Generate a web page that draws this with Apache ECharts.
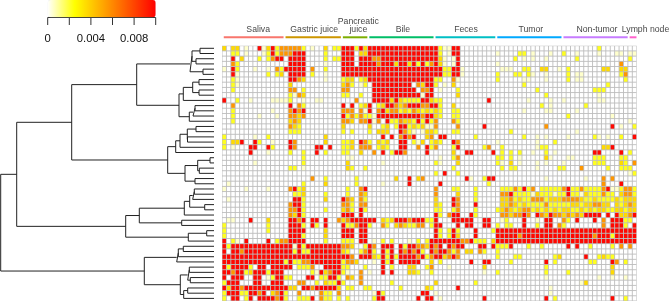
<!DOCTYPE html>
<html><head><meta charset="utf-8">
<style>html,body{margin:0;padding:0;background:#fff}#c{width:670px;height:301px}</style>
<script src="https://cdn.jsdelivr.net/npm/echarts@6/dist/echarts.min.js"></script>
</head><body><div id="c"></div>
<script>
const groupNames = ["Saliva","Gastric juice","Pancreatic\njuice","Bile","Feces","Tumor","Non-tumor","Lymph node"];
const groupSizes = [14,13,6,15,14,15,15,2];
const groupColors = ["#F8766D","#CD9600","#7CAE00","#00BE67","#00BFC4","#00A9FF","#C77CFF","#FF61CC"];
const groupLabelAt = [8.2,20.9,30.9,41,55.3,70,85,96];
const levels = {p:0.0005,y:0.0022,g:0.0036,o:0.0056,r:0.0098};
const legendTicks = [0,0.002,0.004,0.006,0.008,0.01];
// cells of each row: column or column range + level letter
const rows = [
"0g 2g 3g 5p 8r 9p 10g 11r 12y 13o 14-17o 18y 20p 23g 25y 26y 27-29r 30y 31r 32g 33-48r 49y 50p 51p 52r 53r 85y",
"2y 3y 5p 9p 10y 11r 12y 13o 14o 15o 16-18r 23y 27-29r 31g 32g 33-48r 49y 51p 52r 53r 62p 67y 68y 70p 74p 77y 80p 85p 89p 90p 92p 93p",
"2r 4g 8y 10y 11o 12r 13r 15-18r 23y 25y 26y 27-29r 31r 32r 33r 34o 35o 36-48r 49g 50p 52p 53r 66y 68p 70p 73p 80y 92y",
"2o 3y 15-18r 23p 27-29r 31r 32r 33r 34r 35o 36-38r 39g 40r 41r 42g 43r 44y 45r 46y 47o 48r 49g 50p 52p 53r 62p 90o",
"0p 2r 3y 7p 10p 12o 13y 14r 15-18r 20o 23y 27-49r 50y 51y 52r 53r 54p 63p 64p 65p 68y 69y 72g 73g 76p 78y 86g 87g 90g 91g",
"2r 3p 10y 12y 13g 15-18r 20y 23p 27-49r 50y 51y 52r 53r 54p 62y 66y 67y 69y 70p 73p 78y 80p 81p 90y 91o",
"2y 3p 15r 16r 17o 18g 23p 27y 28g 29g 31y 32g 33-47r 48y 49y 52o 53p 62y 68p 69p 73p 78y 80p 81p 91y",
"2y 3p 15g 27g 28o 29y 31p 32y 34-42r 44o 45g 46r 47r 48y 50p 52g 68y 87y",
"2y 15o 16o 18y 27o 28o 34-43r 45o 46o 47r 49p 53y 71y 84y 85y 86y",
"15y 16p 17o 18g 27y 28y 31y 34-44r 45p 46r 47r 53g 73y 85p",
"0r 3y 6p 11p 12p 13p 14p 15y 18p 21p 22p 30o 34-37r 38g 39r 40g 41y 42y 43y 44y 45r 46r 47g 48y 49y 60r 69p 74p 77p 85p 86p",
"2o 15r 17o 18y 27r 29r 31y 32g 33r 35y 36g 37r 38r 39o 40g 41o 42r 43r 44r 45o 46o 47r 48r 49y 52g 72y 74p 82y",
"2y 11p 15o 16r 17o 18r 27o 28o 29o 31o 32p 33r 35o 36r 37g 38o 39o 40y 41g 42y 43o 44g 45y 46g 47y 48g 49y 52y 53y 68p 73p 74p 80p",
"2y 8p 12p 15o 16o 17g 18o 27r 28y 29o 30y 31o 32y 33y 34p 35-44r 45o 46r 47r 48g 49y 52y 53y 78y 88p",
"2y 15g 16o 17g 27o 28o 29g 31o 32o 33r 34p 35o 37r 38y 39y 40o 41g 42g 43y 44r 45y 46r 47y 48o 52o 53y 92p",
"15o 16g 17y 27g 33g 36y 37g 39y 40r 41r 42y 43g 44y 45g 46p 47p 48o 53o 59r 73o 88r 90p 93y",
"15y 16y 17y 27y 29y 33y 35g 36g 37g 40r 41o 42y 43p 45p 46g 47g 48y 52y 53y 65y 80p",
"0y 7p 10y 23g 36r 38r 40o 41r 42o 43r 46g 47o 49r 50r 57y 68y 71p 73p 78p 84y 85p 87p 90y 93r",
"0y 2g 3g 4r 7r 8y 11p 15r 16o 23g 27y 28y 29g 31r 32o 33y 35g 36y 37g 40r 41r 43y 44p 45g 47y 48g 49y 52r 53o 62p 71p 75y",
"0y 2p 6r 7r 10r 11y 15r 16o 21r 22r 24r 27y 28y 29g 31o 32o 33o 35y 36g 37y 40r 41r 44o 46r 47y 48o 52y 53r 59y 60o 63y 71p 72y 73y 86g 87g 88r",
"6r 10p 15y 18y 21r 23y 27y 28y 31g 34o 36r 38y 39r 40r 41o 46r 52g 55r 56r 61r 63y 65y 67y 70p 73y 75p 84r 85r 90r 92y",
"18y 28p 29p 49p 52y 53o 62y 63y 65y 67p 73g 74p 78p 79p 84y 85y 86y 90y 91y",
"7p 18y 28g 36p 48y 49p 53g 62y 63p 65g 67p 71p 73p 77p 84y 85y 86y 90g 91y 93o",
"15y 16y 18p 28g 29y 32y 52y 63y 65y 66y 71p 76y 77y 81o 87y 90y 91y 92y",
"48y 50r 53y 92p 93y",
"20o 23y 30y 39g 42r 44g 45o 55r 56p 59y 60r 61r 73p 82p 86o 88o",
"1p 18y 23g 30y 36p 42r 49r 60y 86o 90r",
"0p 5p 10p 15o 16r 17y 18g 28y 31o 32r 48o 52y 53y 57y 63y 64y 65y 66o 67y 68r 69y 70o 72y 73y 74y 75y 76y 77o 78r 79y 80y 81o 82y 83y 84y 85y 86o 87r 88p 89p 90y 91o 92o 93y",
"16y 17y 18g 23y 28y 31o 32g 48o 53g 57y 63o 64o 65r 66y 67y 68y 69y 70p 71g 72y 73y 74y 75p 76y 77y 78r 79y 80y 81p 82g 83y 84y 85y 86o 87y 88y 90g 91o 92o 93y",
"1p 16r 17r 18y 23g 27r 28o 29g 31o 32y 48g 52r 53o 57y 63g 64g 65o 66y 67g 68y 69y 70o 71o 72o 73y 74g 75g 76g 77o 78o 79o 80o 81g 82y 83y 84g 85y 86y 87y 88y 89g 90y 91g 92g 93g",
"15o 16r 17r 18y 27o 28o 29y 31o 32o 48g 49y 52r 53o 57r 63g 64g 65o 66g 67y 68g 69y 70y 71y 72y 73o 74y 75y 76y 77y 78y 79g 80g 81y 82g 83g 84o 85o 86g 87g 89g 90y 91g 92o 93g",
"15o 16o 17r 18y 23y 27g 28o 29y 31r 32y 48y 49y 52y 53o 57y 62y 63g 64o 65g 66y 67g 68o 69o 70y 71g 72y 73g 74y 75g 76y 77g 78g 79y 80y 81g 82y 83g 84y 85g 86g 87y 88y 89g 90g 91y 92g 93g",
"15o 16g 17r 18y 27r 28r 29r 31r 48r 49y 51o 52r 53r 56r 57y 63o 64o 65g 66o 67o 68r 69o 71r 72o 73g 74r 75o 76o 77g 78o 79g 80o 81g 82r 83r 84r 85r 87r 89r 90g 91g 92o 93r",
"1p 2p 6r 10g 15r 16r 17o 18r 20r 21r 23r 26o 27g 28o 29-34r 36g 37y 38g 39-41r 42o 43-45r 46y 47y 48r 52r 53r 54r 55r 56r 59r 60r 63p 64y 68r 71p 73r 74r 77o 78y 80r 84r 86o 88r 89r 90r 91y 92y",
"0y 10y 15r 16r 17r 18y 20r 21y 23r 27r 28y 29y 30o 31r 32r 33y 36o 37y 39g 40o 41g 42y 43y 44o 45o 47y 48r 49r 53r 55r 56r 59r 60r 62y 64y 65y 68r 71y 73r 74r 76o 77y 86o 88r 89r 90r 91y 93r",
"0y 10y 15-18r 23g 27-29r 31r 32r 48r 49y 51y 52r 53y 57r 61y 62-93r",
"0y 15-17r 18y 23g 27-29r 31r 32r 48r 49y 51y 52r 53g 57r 62-93r 67o 84o 88y",
"0r 2y 3p 5r 10r 12y 13o 14o 15-18r 23y 27y 28y 29y 31r 32r 34p 36y 38y 42p 44y 46y 47r 48-53r 54o 55o 56r 57y 58y 59y 61g 62-93r",
"0r 1y 2-15r 16p 17r 18y 19-26r 27o 28o 29g 32y 33r 34o 36-38r 40r 41y 42r 43r 44o 45o 46g 47r 48o 49r 51r 52o 53r 54r 58r 59r 61r 62y 63y 64y 65r 69y 72y 78r 80r 83y 88y 90o 92o",
"0r 2r 3r 4o 5-15r 16y 17r 18y 19y 20-26r 27g 28y 31y 32o 33r 34y 36r 37y 38r 40r 41o 42r 43o 44r 45y 47r 48o 49r 50r 51o 52y 53o 55g 56g 58o 59y 62y",
"0-28r 29o 31-33r 34g 35y 36r 37y 38r 39y 40-43r 44o 45r 46y 47o 48r 49r 50g 51o 52r 53o 62y 66y 67y 75y 76g 82r 85y 86g 87y 88y",
"0-13r 14y 15r 16y 17y 18o 19o 20-26r 27y 28o 29o 30g 34p 36r 37y 38r 40-44r 47g 49y 56r 59r 60r 65y 73r 75y 83y 84y 88r 89o 91y",
"0r 1y 2-5r 6y 8r 9r 11-15r 17y 18y 19y 20o 23-26r 27y 28y 32y 36r 38y 42g 43g 46y 47o 51p 59g 73y 88g",
"0r 1r 2o 3r 4r 5y 6g 7r 8r 9r 10y 11-13r 20y 21p 22r 23g 24o 25r 26r 27y 28p 31o 33p 36r 38r 42g 43g 44y 47y 59p 62y 73y 78y 88g",
"0r 2r 3r 4r 7r 8r 10p 11y 12r 13r 14y 15y 19r 20r 22y 23y 24r 25r 26y 28o 29g 31o 73p 85p 88p 91p",
"0y 1r 2r 3r 7r 8r 11r 12r 13r 17o 18o 21y 23g 24y 25y 26r 27y 31o 38y 48g 57y 81p 82g",
"0r 1g 2r 3r 4o 5-14r 15g 16g 18r 19r 20o 21r 22-25r 26g 28y 29y 32y 33y 40y 46g 47y 53r 74p",
"0y 1r 2r 3r 4y 5y 6r 7r 8o 9r 11g 12o 13r 14y 17o 22o 23y 24y 26o 34p 35r 36y 45r 46r 48p 74p",
"0y 2r 3r 5y 6r 8-11r 12o 13r 14y 17y 18y 19y 20r 22o 23y 24y 26y 28y 34y 35r 36r 44r 46r 47r 49p 59r 73r 75y 88r 91y"
];
// dendrogram: [merge position, upper child, lower child]; integers are row numbers
const tree = [0.7,
 [16.7,
  [71.7,
   [136.7,
    [190,[192,[200,0,1],[196,2,3]],[203,4,5]],
    [179,[183.3,[192.7,[199,6,7],[199,8,9]],10],[189.3,[193,[195,11,12],13],14]]],
   [167.7,
    [175.7,[180,[187.3,[196,15,16],[187.5,17,18]],19],20],
    [185,[197.7,[210,21,22],[199.3,23,24]],[195,25,26]]]],
  [125.7,
   [139.3,
    [184.3,[189.7,[192.7,[194.3,27,28],29],[204.7,30,31]],32],
    [181.7,33,34]],
   [188.3,[206.7,35,36],37]]],
 [144.3,
  [176.7,[178.3,[183.3,38,39],40],41],
  [180.3,[187.7,[189.3,42,43],[190.3,44,45]],[183.7,[187.7,46,47],48]]]];

const nCols = groupSizes.reduce((a,b)=>a+b,0);
const cols = Array.from({length:nCols},(_,i)=>i);
const rowIdx = rows.map((_,i)=>i);
const cells = [];
rows.forEach((row,j)=>{
  const vals = new Array(nCols).fill(0);
  row.split(' ').forEach(t=>{
    const m = t.match(/^(\d+)(?:-(\d+))?([pygor])$/);
    const a=+m[1], b=m[2]===undefined?a:+m[2];
    for(let c=a;c<=b;c++) vals[c]=levels[m[3]];
  });
  vals.forEach((v,c)=>cells.push([c,j,v]));
});
const dendro = [];
(function walk(n){
  if(typeof n==='number') return {x:214,y:n};
  const a=walk(n[1]), b=walk(n[2]), y=(a.y+b.y)/2;
  dendro.push([a.x,a.y],[n[0],a.y],[n[0],b.y],[b.x,b.y],null);
  return {x:n[0],y};
})(tree);
const legendRule = [[legendTicks[0],1],[legendTicks[legendTicks.length-1],1],null];
legendTicks.forEach(t=>legendRule.push([t,1],[t,0],null));
const starts=[]; groupSizes.reduce((s,n,i)=>{starts[i]=s;return s+n;},0);
const gridL=222, gridW=414.7, gridT=45.7, gridH=255.3, cellGap=0.9;
const chart = echarts.init(document.getElementById('c'),null,{renderer:'canvas'});
const font='"Liberation Sans",Arial,sans-serif';
chart.setOption({
  animation:false,
  backgroundColor:'#fff',
  grid:[
    {left:gridL,top:gridT,width:gridW,height:gridH,show:true,backgroundColor:'#bdbdbd',borderWidth:0},
    {left:0,top:gridT,width:214,height:gridH},
    {left:gridL,top:34,width:gridW,height:4},
    {left:47.7,top:17.5,width:108,height:7.5}
  ],
  xAxis:[
    {gridIndex:0,type:'category',data:cols,show:false},
    {gridIndex:1,type:'value',min:0,max:214,show:false},
    {gridIndex:2,type:'value',min:0,max:nCols,show:false},
    {gridIndex:3,type:'value',min:0,max:0.01,interval:0.002,position:'bottom',splitLine:{show:false},
     axisLine:{show:false},axisTick:{show:false},
     axisLabel:{margin:8.5,fontSize:11.3,color:'#111',fontFamily:font,showMaxLabel:true,
       formatter:v=>(Math.abs(v/0.004-Math.round(v/0.004))<1e-6&&v<0.0095)?String(+v.toFixed(3)):''}}
  ],
  yAxis:[
    {gridIndex:0,type:'category',data:rowIdx,inverse:true,show:false},
    {gridIndex:1,type:'value',min:-0.5,max:rows.length-0.5,inverse:true,show:false},
    {gridIndex:2,type:'value',min:0,max:4,show:false},
    {gridIndex:3,type:'value',min:0,max:1,show:false}
  ],
  visualMap:{type:'continuous',seriesIndex:0,dimension:2,min:0,max:0.01,show:true,calculable:false,
    orient:'horizontal',left:47.7,top:0,itemWidth:17.3,itemHeight:108,padding:0,text:null,hoverLink:false,
    inRange:{color:['#ffffff','#ffff00','#ffaa00','#ff5500','#ff0000']}},
  series:[
    {type:'custom',xAxisIndex:0,yAxisIndex:0,data:cells,encode:{x:0,y:1},silent:true,clip:false,
     renderItem:(params,api)=>{
       const c=api.coord([api.value(0),api.value(1)]), s=api.size([1,1]);
       return {type:'rect',shape:{x:c[0]-s[0]/2+cellGap/2,y:c[1]-s[1]/2+cellGap/2,width:s[0]-cellGap,height:s[1]-cellGap},
         style:{fill:api.visual('color')}};
     }},
    {type:'line',xAxisIndex:1,yAxisIndex:1,data:dendro,showSymbol:false,symbol:'none',connectNulls:false,silent:true,
     lineStyle:{color:'#222',width:1}},
    ...groupNames.map((n,i)=>({type:'line',xAxisIndex:2,yAxisIndex:2,symbol:'none',silent:true,clip:false,
       data:[[starts[i]+0.4,0.7],[starts[i]+groupSizes[i]-0.05,0.7]],
       lineStyle:{color:groupColors[i],width:2,cap:'butt'}})),
    {type:'scatter',xAxisIndex:2,yAxisIndex:2,symbolSize:0,silent:true,clip:false,
     data:groupNames.map((n,i)=>({name:n,value:[groupLabelAt[i],4]})),
     label:{show:true,position:'top',distance:0,formatter:p=>p.name,fontSize:8.7,lineHeight:8,color:'#111',fontFamily:font}},
    {type:'line',xAxisIndex:3,yAxisIndex:3,data:legendRule,symbol:'none',silent:true,clip:false,connectNulls:false,
     lineStyle:{color:'#333',width:1}}
  ]
});
</script></body></html>
